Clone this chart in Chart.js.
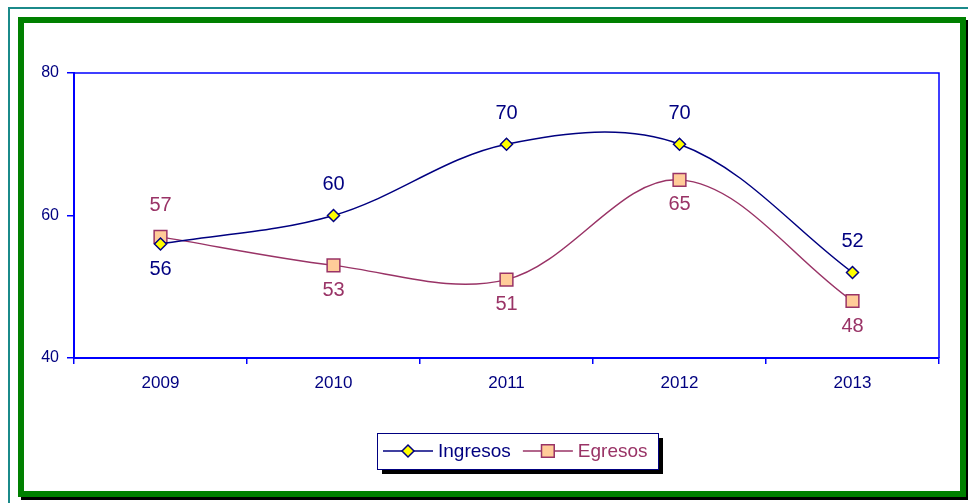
<!DOCTYPE html>
<html>
<head>
<meta charset="utf-8">
<script src="https://cdn.jsdelivr.net/npm/chart.js@4.4.0/dist/chart.umd.min.js"></script>
<style>
  html, body { margin: 0; padding: 0; background: #fff; }
  body { width: 968px; height: 503px; position: relative; overflow: hidden; }
  .teal { position: absolute; left: 8px; top: 7px; width: 1000px; height: 600px;
          border-left: 2px solid #1b8a8a; border-top: 2px solid #1b8a8a; }
  .frame { position: absolute; left: 18px; top: 17px; width: 948px; height: 480px;
           box-sizing: border-box; border: 6px solid #008000; box-shadow: 3px 3px 0 #000; background: #fff; }
  #wrap { position: absolute; left: 0; top: 0; width: 968px; height: 503px; }
</style>
</head>
<body>
<div class="teal"></div>
<div class="frame"></div>
<div id="wrap"><canvas id="lineChart" width="968" height="503"></canvas></div>
<script>
// Data
const years = ['2009', '2010', '2011', '2012', '2013'];
const ingresos = [56, 60, 70, 70, 52];
const egresos = [57, 53, 51, 65, 48];
const yTicks = [40, 60, 80];

// where each value label sits relative to its point
const ingresosLabelPos = ['below', 'above', 'above', 'above', 'above'];
const egresosLabelPos = ['above', 'below', 'below', 'below', 'below'];

const NAVY = '#000080';
const PLUM = '#993366';
const BLUE = '#0000ff';
const FONT = 'Arial, "Liberation Sans", sans-serif';

// Plot box (top and right edges)
const plotBox = {
    id: 'plotBox',
    beforeDatasetsDraw(chart) {
        const { ctx, chartArea: a } = chart;
        ctx.save();
        ctx.strokeStyle = BLUE;
        ctx.lineWidth = 1.5;
        ctx.beginPath();
        ctx.moveTo(a.left, a.top);
        ctx.lineTo(a.right, a.top);
        ctx.lineTo(a.right, a.bottom);
        ctx.stroke();
        ctx.restore();
    }
};

// Value labels next to each point
const valueLabels = {
    id: 'valueLabels',
    afterDatasetsDraw(chart) {
        const ctx = chart.ctx;
        const positions = [ingresosLabelPos, egresosLabelPos];
        ctx.save();
        ctx.font = '20px ' + FONT;
        ctx.textAlign = 'center';
        ctx.textBaseline = 'middle';
        chart.data.datasets.forEach((ds, i) => {
            const meta = chart.getDatasetMeta(i);
            ctx.fillStyle = ds.borderColor;
            meta.data.forEach((pt, j) => {
                const dy = positions[i][j] === 'above' ? -31 : 25;
                ctx.fillText(ds.data[j], pt.x, pt.y + dy);
            });
        });
        ctx.restore();
    }
};

// Boxed legend with shadow, drawn below the plot
const boxLegend = {
    id: 'boxLegend',
    afterDraw(chart) {
        const ctx = chart.ctx;
        const bx = 377, by = 433, bw = 281, bh = 36;
        ctx.save();
        ctx.fillStyle = '#000';
        ctx.fillRect(bx + 5, by + 5, bw, bh);
        ctx.fillStyle = '#fff';
        ctx.fillRect(bx, by, bw, bh);
        ctx.strokeStyle = NAVY;
        ctx.lineWidth = 1;
        ctx.strokeRect(bx + 0.5, by + 0.5, bw, bh);

        ctx.font = '19px ' + FONT;
        ctx.textBaseline = 'middle';
        let x = bx + 6;
        const y = by + bh / 2;
        chart.data.datasets.forEach(ds => {
            ctx.strokeStyle = ds.borderColor;
            ctx.lineWidth = ds.borderWidth;
            ctx.beginPath();
            ctx.moveTo(x, y);
            ctx.lineTo(x + 50, y);
            ctx.stroke();
            ctx.fillStyle = ds.pointBackgroundColor;
            ctx.strokeStyle = ds.pointBorderColor;
            ctx.lineWidth = ds.pointBorderWidth;
            Chart.helpers.drawPoint(ctx, {
                pointStyle: ds.pointStyle,
                radius: ds.pointRadius,
                rotation: 0,
                borderWidth: ds.pointBorderWidth
            }, x + 25, y);
            ctx.fillStyle = ds.borderColor;
            ctx.fillText(ds.label, x + 55, y + 1);
            x += 55 + ctx.measureText(ds.label).width + 12;
        });
        ctx.restore();
    }
};

const ctx = document.getElementById('lineChart');
new Chart(ctx, {
    type: 'line',
    data: {
        labels: years,
        datasets: [{
            label: 'Ingresos',
            data: ingresos,
            borderColor: NAVY,
            borderWidth: 1.5,
            tension: 0.35,
            pointStyle: 'rectRot',
            pointRadius: 6,
            pointBackgroundColor: '#ffff00',
            pointBorderColor: NAVY,
            pointBorderWidth: 1.5
        }, {
            label: 'Egresos',
            data: egresos,
            borderColor: PLUM,
            borderWidth: 1.5,
            tension: 0.35,
            pointStyle: 'rect',
            pointRadius: 9,
            pointBackgroundColor: '#ffcc99',
            pointBorderColor: PLUM,
            pointBorderWidth: 1.5
        }]
    },
    options: {
        responsive: false,
        animation: false,
        layout: {
            padding: { left: 24, right: 29, top: 73, bottom: 115 }
        },
        plugins: {
            legend: { display: false },
            tooltip: { enabled: false }
        },
        scales: {
            x: {
                offset: true,
                afterFit(scale) { scale.height = 30; },
                grid: {
                    offset: true,
                    drawOnChartArea: false,
                    tickLength: 6,
                    color: BLUE,
                    lineWidth: 1.5
                },
                border: { color: BLUE, width: 2 },
                ticks: {
                    color: NAVY,
                    padding: 9,
                    font: { family: FONT, size: 17 }
                }
            },
            y: {
                min: 40,
                max: 80,
                afterFit(scale) { scale.width = 50; },
                afterBuildTicks(scale) {
                    scale.ticks = yTicks.map(v => ({ value: v }));
                },
                grid: {
                    drawOnChartArea: false,
                    tickLength: 7,
                    color: BLUE,
                    lineWidth: 1.5
                },
                border: { color: BLUE, width: 2 },
                ticks: {
                    color: NAVY,
                    padding: 8,
                    font: { family: FONT, size: 16 }
                }
            }
        }
    },
    plugins: [plotBox, valueLabels, boxLegend]
});
</script>
</body>
</html>
